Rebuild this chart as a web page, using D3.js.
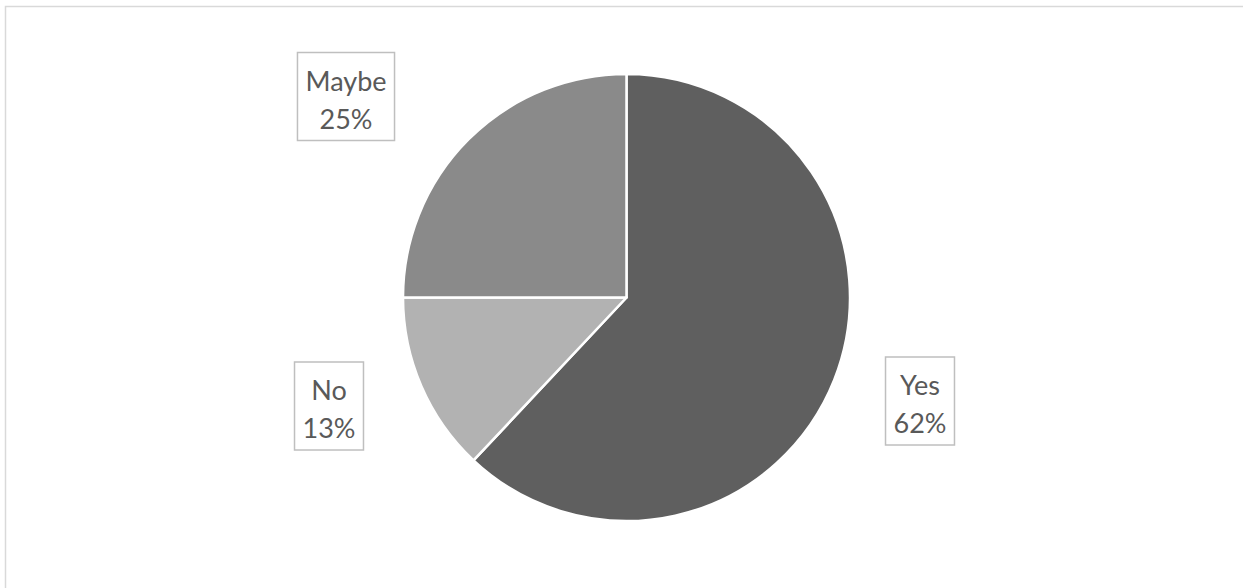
<!DOCTYPE html>
<html>
<head>
<meta charset="utf-8">
<script src="https://cdn.jsdelivr.net/npm/d3@7"></script>
<style>
  html, body { margin: 0; padding: 0; background: #fff; }
  svg { display: block; }
</style>
</head>
<body>
<svg id="chart" width="1243" height="588"></svg>
<script>
// Survey answers and their shares (percent)
const categories = ["Yes", "No", "Maybe"];
const values = [62, 13, 25];
const sliceColors = ["#5f5f5f", "#b2b2b2", "#8a8a8a"];

// Centres of the callout boxes for each category
const labelCenters = {
  "Yes":   [920, 401],
  "No":    [329, 406],
  "Maybe": [346, 96.5]
};

const svg = d3.select("#chart");
const W = 1243, H = 588;

// Chart-area frame
svg.append("rect")
  .attr("x", 5.5).attr("y", 6.5)
  .attr("width", W + 10).attr("height", H + 10)
  .attr("fill", "#fff")
  .attr("stroke", "#d9d9d9")
  .attr("stroke-width", 1.5);

const cx = 626.5, cy = 297.5, r = 223.5;

const data = categories.map((c, i) => ({ category: c, value: values[i], color: sliceColors[i] }));

const pie = d3.pie().value(d => d.value).sort(null);
const arc = d3.arc().innerRadius(0).outerRadius(r);

const g = svg.append("g").attr("transform", `translate(${cx},${cy})`);

g.selectAll("path")
  .data(pie(data))
  .join("path")
  .attr("d", arc)
  .attr("fill", d => d.data.color)
  .attr("stroke", "#fff")
  .attr("stroke-width", 2.5)
  .attr("stroke-linejoin", "round");

// Callout labels: category name and share, framed in a box
const fmt = v => `${v}%`;
const labels = svg.append("g");
data.forEach(d => {
  const [lx, ly] = labelCenters[d.category];
  const lg = labels.append("g");
  const box = lg.append("rect");
  const text = lg.append("text")
    .attr("text-anchor", "middle")
    .attr("font-family", "Lato, 'Open Sans', sans-serif")
    .attr("font-size", 27)
    .attr("fill", "#595959");
  text.append("tspan").attr("x", lx).attr("y", ly - 6).text(d.category);
  text.append("tspan").attr("x", lx).attr("y", ly + 32).text(fmt(d.value));
  const bb = text.node().getBBox();
  const padX = 8;
  const w = bb.width + padX * 2;
  const h = 88;
  box.attr("x", lx - w / 2).attr("y", ly - h / 2)
    .attr("width", w).attr("height", h)
    .attr("fill", "#fff")
    .attr("stroke", "#bfbfbf")
    .attr("stroke-width", 1.5);
});
</script>
</body>
</html>
